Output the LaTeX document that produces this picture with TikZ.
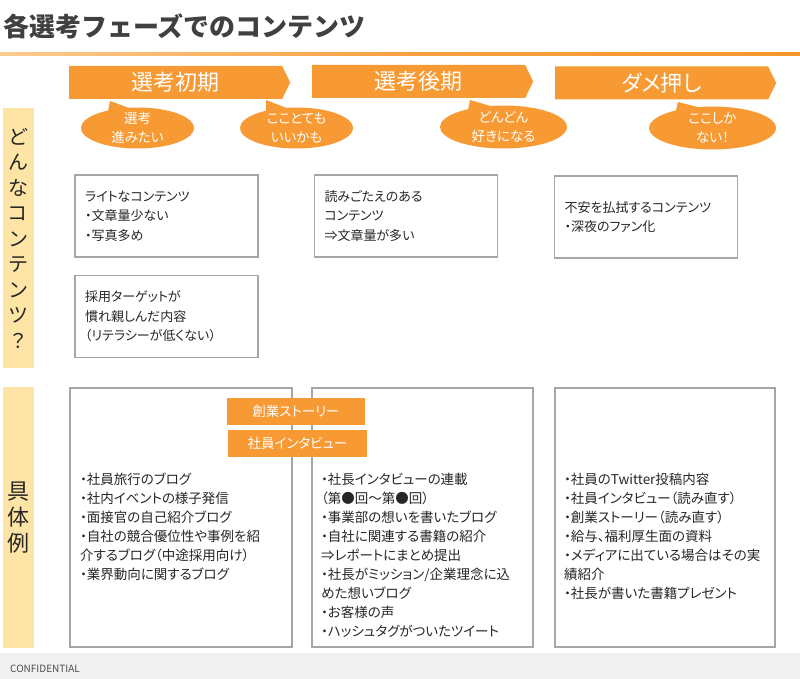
\documentclass[tikz,border=0pt]{standalone}
\usepackage{fontspec}
\setmainfont{Noto Sans CJK JP}[RawFeature=+palt]
\newfontfamily\titlefont{Noto Sans CJK JP}
\definecolor{PhaseOrange}{HTML}{F79A34}
\definecolor{LineOrange}{HTML}{F7962E}
\definecolor{LineLight}{HTML}{FBCB8F}
\definecolor{SideYellow}{HTML}{FFE5A5}
\definecolor{BoxGray}{HTML}{A6A6A6}
\definecolor{TitleGray}{HTML}{404040}
\definecolor{FootGray}{HTML}{F0F0F0}
\usetikzlibrary{shapes.symbols, shapes.callouts}

\begin{document}
\begin{tikzpicture}[x=1pt, y=-1pt,
  phase/.style={signal, signal to=east, signal pointer angle=128, fill=PhaseOrange,
    text=white, inner sep=0pt, minimum width=221pt, minimum height=33pt,
    anchor=west, font=\fontsize{22}{26}\selectfont},
  bubble/.style={ellipse callout, callout pointer arc=22, fill=PhaseOrange,
    inner sep=0pt, minimum height=41pt},
  saytext/.style={text=white, align=center, inner sep=0pt,
    font=\fontsize{13.5}{19}\selectfont},
  sidebar/.style={fill=SideYellow, minimum width=31pt, align=center,
    inner sep=0pt, text=black!85},
  infobox/.style={draw=BoxGray, line width=1.2pt, fill=white, minimum height=82pt,
    inner xsep=10pt, text width=163pt, align=left, text=black!85,
    font=\fontsize{13}{19.5}\selectfont},
  listbox/.style={draw=BoxGray, line width=1.2pt, minimum height=259pt},
  listtext/.style={anchor=north west, inner sep=0pt, align=left, text=black!85,
    font=\fontsize{13.5}{19}\selectfont},
  tag/.style={fill=PhaseOrange, text=white, minimum height=27pt,
    font=\fontsize{13.5}{15}\selectfont}]
  \useasboundingbox (0,0) rectangle (800,679);
  \fill[white] (0,0) rectangle (800,679);

  % Title and rule
  \node[anchor=west, inner sep=0pt, text=TitleGray,
    font=\titlefont\bfseries\fontsize{26}{30}\selectfont] (title) at (3,26)
    {各選考フェーズでのコンテンツ};
  \shade[left color=LineLight, right color=LineOrange, middle color=LineOrange!80!LineLight]
    (0,53) rectangle (800,56);

  % Phases
  \node[phase] (early) at (69,82.5) {選考初期};
  \node[phase] (late) at (312,81.5) {選考後期};
  \node[phase] (push) at (555,83) {ダメ押し};

  % Speech bubbles
  \node[bubble, minimum width=113pt, callout absolute pointer={(110,101)}] (say1) at (137.5,128) {};
  \node[saytext] (say1t) at (say1.center) {選考\\進みたい};
  \node[bubble, minimum width=113pt, callout absolute pointer={(266,100)}] (say2) at (296.5,128) {};
  \node[saytext] (say2t) at (say2.center) {こことても\\いいかも};
  \node[bubble, minimum width=127pt, minimum height=43pt, callout absolute pointer={(470,100)}] (say3) at (503.5,127) {};
  \node[saytext] (say3t) at (say3.center) {どんどん\\好きになる};
  \node[bubble, minimum width=127pt, minimum height=43pt, callout absolute pointer={(678,102)}] (say4) at (712.5,128) {};
  \node[saytext] (say4t) at (say4.center) {ここしか\\ない！};

  % Row labels
  \node[sidebar, minimum height=260pt, font=\fontsize{20}{25.5}\selectfont] (whatside)
    at (18.5,238) {ど\\ん\\な\\コ\\ン\\テ\\ン\\ツ\\？};
  \node[sidebar, minimum height=261pt, font=\fontsize{22}{26}\selectfont] (caseside)
    at (18.5,517.5) {具\\体\\例};

  % What kind of content
  \node[infobox] (light) at (166.5,216) {ライトなコンテンツ\\・文章量少ない\\・写真多め};
  \node[infobox] (familiar) at (166.5,316.5) {採用ターゲットが\\慣れ親しんだ内容\\（リテラシーが低くない）};
  \node[infobox] (deep) at (406,216) {読みごたえのある\\コンテンツ\\⇒文章量が多い};
  \node[infobox] (relief) at (646,217) {不安を払拭するコンテンツ\\・深夜のファン化};

  % Examples
  \node[listbox, minimum width=222pt] (earlylist) at (181,517.5) {};
  \node[listbox, minimum width=221pt] (latelist) at (422.5,517.5) {};
  \node[listbox, minimum width=220pt] (pushlist) at (665,517.5) {};
  \node[tag, minimum width=138pt] (story) at (296,411.5) {創業ストーリー};
  \node[tag, minimum width=139pt] (interview) at (297.5,443.5) {社員インタビュー};

  \node[listtext] (earlyitems) at (80,473)
    {・社員旅行のブログ\\・社内イベントの様子発信\\・面接官の自己紹介ブログ\\%
     ・自社の競合優位性や事例を紹\\介するブログ（中途採用向け）\\・業界動向に関するブログ};
  \node[listtext] (lateitems) at (321,473)
    {・社長インタビューの連載\\（第●回～第●回）\\・事業部の想いを書いたブログ\\%
     ・自社に関連する書籍の紹介\\⇒レポートにまとめ提出\\・社長がミッション/企業理念に込\\%
     めた想いブログ\\・お客様の声\\・ハッシュタグがついたツイート};
  \node[listtext] (pushitems) at (564,473)
    {・社員のTwitter投稿内容\\・社員インタビュー（読み直す）\\・創業ストーリー（読み直す）\\%
     ・給与、福利厚生面の資料\\・メディアに出ている場合はその実\\績紹介\\・社長が書いた書籍プレゼント};

  % Footer
  \fill[FootGray] (0,653) rectangle (800,679);
  \node[anchor=west, inner sep=0pt, text=black!70, font=\fontsize{10}{11}\selectfont]
    (conf) at (10,669) {CONFIDENTIAL};
\end{tikzpicture}
\end{document}
